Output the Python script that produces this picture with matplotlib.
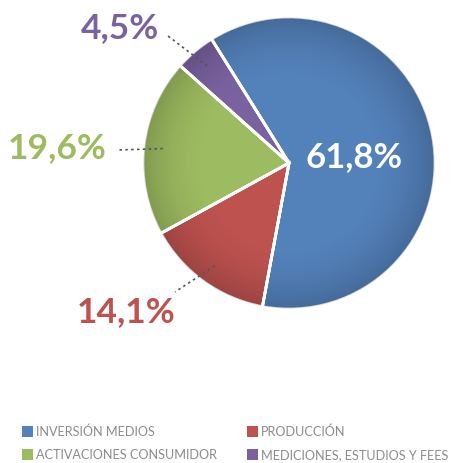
import numpy as np
import matplotlib
matplotlib.use("Agg")
import matplotlib.pyplot as plt
from matplotlib.patches import Circle, Rectangle

categories = ["INVERSIÓN MEDIOS", "PRODUCCIÓN", "ACTIVACIONES CONSUMIDOR", "MEDICIONES, ESTUDIOS Y FEES"]
values = [61.8, 14.1, 19.6, 4.5]
labels = ["61,8%", "14,1%", "19,6%", "4,5%"]
colors = ["#5381ba", "#bd524f", "#9dbb60", "#7a62a0"]

W, H = 452, 464
fig = plt.figure(figsize=(W / 100, H / 100), dpi=100)
ax = fig.add_axes([0, 0, 1, 1])
cx, cy, R = 289, H - 164, 146
start = 122

wedges, _ = ax.pie(values, colors=colors, startangle=start, counterclock=False,
                   center=(cx, cy), radius=R,
                   wedgeprops=dict(edgecolor="white", linewidth=2))
ax.set_xlim(0, W)
ax.set_ylim(0, H)
ax.set_aspect("equal")
ax.axis("off")

# radial shading
n = 400
xs = np.linspace(cx - R, cx + R, n)
ys = np.linspace(cy - R, cy + R, n)
X, Y = np.meshgrid(xs, ys)
r = np.sqrt((X - cx) ** 2 + (Y - cy) ** 2) / R
alpha = np.clip((r - 0.55) / 0.45, 0, 1) ** 2 * 0.18
img = np.zeros((n, n, 4))
img[..., 3] = alpha
im = ax.imshow(img, extent=(cx - R, cx + R, cy - R, cy + R), origin="lower", zorder=3)
im.set_clip_path(Circle((cx, cy), R - 0.5, transform=ax.transData))
# redraw white separators above shading
for w in wedges:
    th1, th2 = np.deg2rad(w.theta1), np.deg2rad(w.theta2)
    for th in (th1, th2):
        ax.plot([cx, cx + R * np.cos(th)], [cy, cy + R * np.sin(th)], color="white", lw=2, zorder=4,
                solid_capstyle="butt")

font = "Lato"
# labels
label_pos = [(354, H - 157), (126, H - 312), (57, H - 148), (120, H - 28)]
line_outer = [None, (175, H - 293), (117, H - 151), (168, H - 37)]
for i, w in enumerate(wedges):
    mid = np.deg2rad((w.theta1 + w.theta2) / 2)
    if i == 0:
        ax.text(*label_pos[i], labels[i], color="white", fontsize=25, fontweight="bold",
                family=font, ha="center", va="center", zorder=6)
    else:
        x0, y0 = cx + 127 * np.cos(mid), cy + 127 * np.sin(mid)
        ax.plot([x0, line_outer[i][0]], [y0, line_outer[i][1]], color="#555555", lw=1.2,
                linestyle=(0, (1.5, 2)), zorder=5)
        ax.text(*label_pos[i], labels[i], color=colors[i], fontsize=25.5, fontweight="bold",
                family=font, ha="center", va="center", zorder=6)

# legend
leg_pos = [(22, H - 432), (247, H - 432), (22, H - 455), (247, H - 455)]
for i, (lx, ly) in enumerate(leg_pos):
    ax.add_patch(Rectangle((lx, ly - 5.5), 11, 11, facecolor=colors[i], edgecolor="none"))
    ax.text(lx + 14, ly, categories[i], color="#8c8c8c", fontsize=9.1, family=font,
            fontweight="normal", ha="left", va="center")

fig.savefig("out.png", dpi=100)
